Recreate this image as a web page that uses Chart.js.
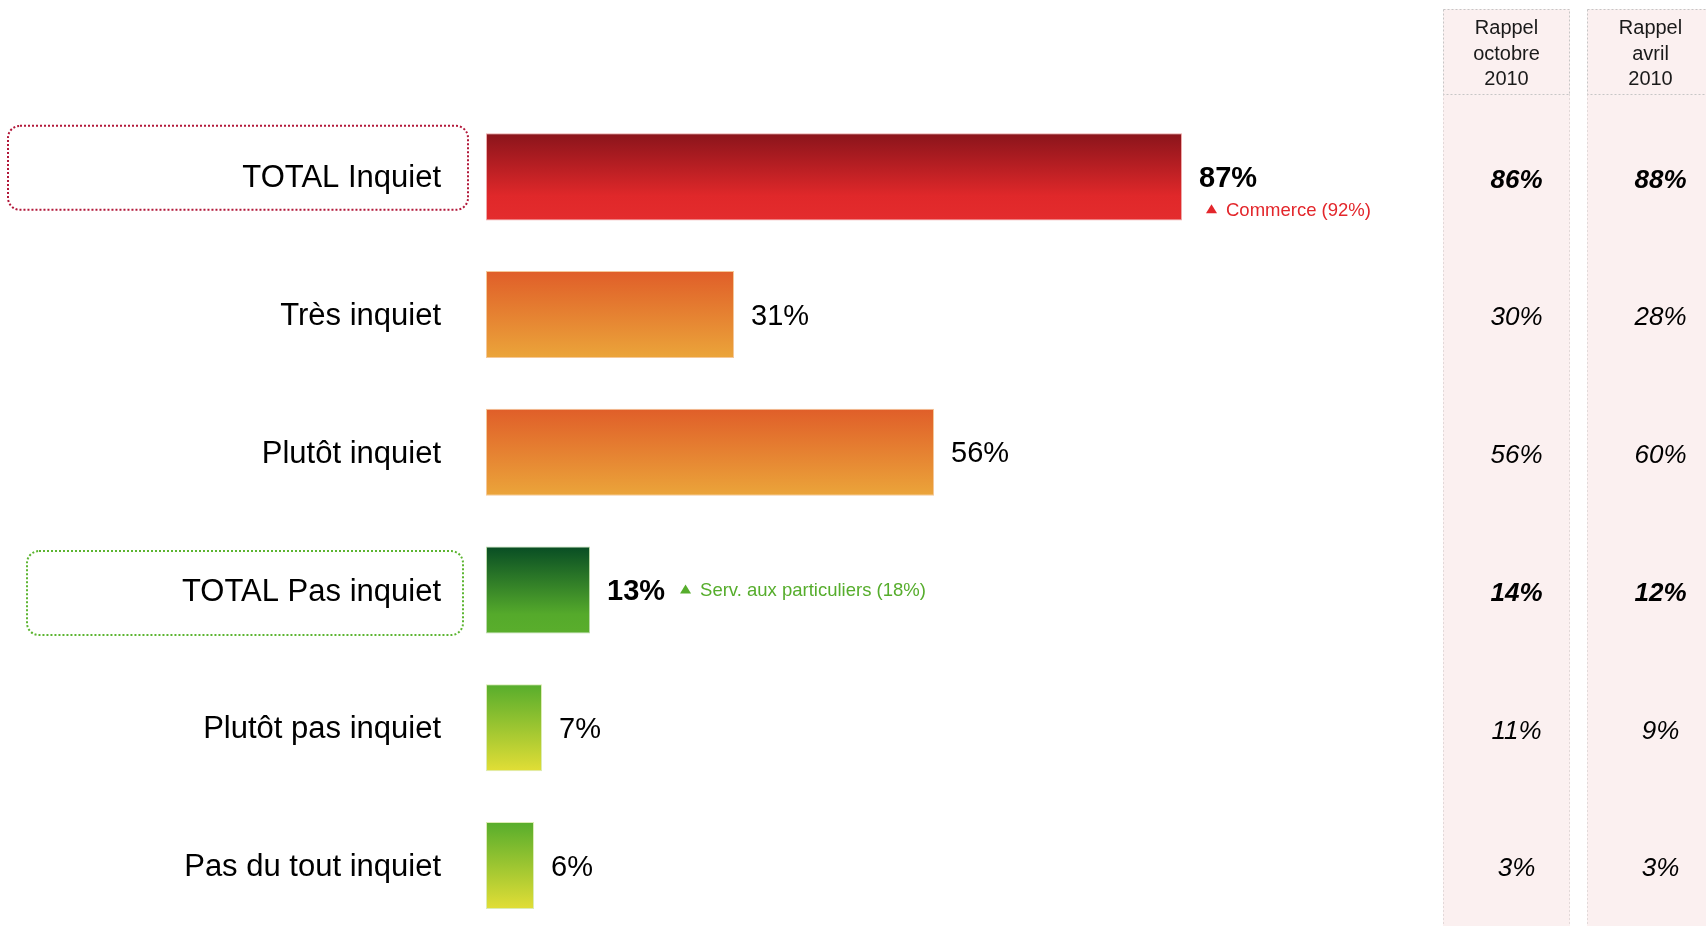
<!DOCTYPE html>
<html>
<head>
<meta charset="utf-8">
<script src="https://cdn.jsdelivr.net/npm/chart.js@4"></script>
<style>
  html, body { margin: 0; padding: 0; background: #fff; overflow: hidden; }
  #wrap { width: 1706px; height: 998px; }
</style>
</head>
<body>
<div id="wrap"><canvas id="chart" width="1706" height="998"></canvas></div>
<script>
const FONT = '"Liberation Sans", Arial, sans-serif';

const categories = ['TOTAL Inquiet', 'Très inquiet', 'Plutôt inquiet', 'TOTAL Pas inquiet', 'Plutôt pas inquiet', 'Pas du tout inquiet'];
const values = [87, 31, 56, 13, 7, 6];
const isTotal = [true, false, false, true, false, false];
const notes = ['Commerce (92%)', '', '', 'Serv. aux particuliers (18%)', '', ''];
const notePlacement = ['below', '', '', 'right', '', ''];

const recallHeaders = [['Rappel', 'octobre', '2010'], ['Rappel', 'avril', '2010']];
const recallOctobre2010 = [86, 30, 56, 14, 11, 3];
const recallAvril2010 = [88, 28, 60, 12, 9, 3];

// gradient stops per bar (top -> bottom)
const barGradients = [
  [['#8a141b', 0], ['#e0282a', 0.72], ['#e42c2d', 1]],
  [['#e05e29', 0], ['#eba53a', 1]],
  [['#e05e29', 0], ['#eba53a', 1]],
  [['#084d24', 0], ['#55aa2b', 0.78], ['#5aae2c', 1]],
  [['#57ad2c', 0], ['#e2de36', 1]],
  [['#57ad2c', 0], ['#e2de36', 1]],
];
const barBorders = ['#eeaaaa', '#f5c898', '#f5c898', '#b9d9a8', '#dcecb4', '#dcecb4'];
const noteColors = ['#e3262b', '', '', '#56ad2c', '', ''];
const BAR_PCT = 0.632;

const barGradient = (ctx) => {
  const chart = ctx.chart;
  const stops = barGradients[ctx.dataIndex] || barGradients[0];
  if (ctx.type !== 'data' || !chart.chartArea) return stops[stops.length - 1][0];
  const y = chart.scales.y;
  const c = y.getPixelForValue(ctx.dataIndex);
  const half = (y.height / categories.length) * BAR_PCT / 2;
  const g = chart.ctx.createLinearGradient(0, c - half, 0, c + half);
  stops.forEach(([color, at]) => g.addColorStop(at, color));
  return g;
};

const dottedRoundRect = (ctx, x, y, w, h, r, color) => {
  ctx.save();
  ctx.strokeStyle = color;
  ctx.lineWidth = 2;
  ctx.setLineDash([2, 2]);
  ctx.beginPath();
  ctx.roundRect(x, y, w, h, r);
  ctx.stroke();
  ctx.restore();
};

const triangle = (ctx, x, cy, color) => {
  ctx.fillStyle = color;
  ctx.beginPath();
  ctx.moveTo(x, cy + 4.5);
  ctx.lineTo(x + 11, cy + 4.5);
  ctx.lineTo(x + 5.5, cy - 4.5);
  ctx.closePath();
  ctx.fill();
};

const boxes = [
  { index: 0, left: 8, right: 468, top: -51, bottom: 33, color: '#b2183a' },
  { index: 3, left: 27, right: 463, top: -39, bottom: 45, color: '#5cb531' },
];

const recallColumns = [
  { left: 1443, width: 127, values: recallOctobre2010, header: recallHeaders[0] },
  { left: 1587, width: 127, values: recallAvril2010, header: recallHeaders[1] },
];

const decorPlugin = {
  id: 'decor',
  beforeDraw(chart) {
    const { ctx } = chart;
    const y = chart.scales.y;
    const h = chart.height;
    ctx.save();
    // recall columns
    recallColumns.forEach((col) => {
      ctx.fillStyle = '#fbf0f0';
      ctx.fillRect(col.left, 9, col.width, h);
      ctx.strokeStyle = '#e2d9d9';
      ctx.lineWidth = 1;
      ctx.setLineDash([2, 2]);
      ctx.beginPath();
      ctx.moveTo(col.left + 0.5, 94);
      ctx.lineTo(col.left + 0.5, h);
      ctx.moveTo(col.left + col.width - 0.5, 94);
      ctx.lineTo(col.left + col.width - 0.5, h);
      ctx.stroke();
      ctx.strokeStyle = '#c6c6c6';
      ctx.strokeRect(col.left + 0.5, 9.5, col.width - 1, 85);
      ctx.setLineDash([]);
      ctx.fillStyle = '#1a1a1a';
      ctx.font = '20px ' + FONT;
      ctx.textAlign = 'center';
      ctx.textBaseline = 'alphabetic';
      col.header.forEach((line, i) => {
        ctx.fillText(line, col.left + col.width / 2, 34 + i * 25.5);
      });
      ctx.textBaseline = 'middle';
      col.values.forEach((v, i) => {
        ctx.font = (isTotal[i] ? 'italic bold ' : 'italic ') + '26px ' + FONT;
        ctx.fillStyle = '#000';
        ctx.fillText(v + '%', col.left + col.width / 2 + 10, y.getPixelForValue(i) + 3.5);
      });
    });
    // dotted boxes around total labels
    boxes.forEach((b) => {
      const c = y.getPixelForValue(b.index);
      dottedRoundRect(ctx, b.left, c + b.top, b.right - b.left, b.bottom - b.top, 12, b.color);
    });
    ctx.restore();
  },
  afterDatasetsDraw(chart) {
    const { ctx } = chart;
    const meta = chart.getDatasetMeta(0);
    ctx.save();
    ctx.textBaseline = 'middle';
    ctx.textAlign = 'left';
    meta.data.forEach((bar, i) => {
      ctx.font = (isTotal[i] ? 'bold ' : '') + '29px ' + FONT;
      ctx.fillStyle = '#000';
      const label = values[i] + '%';
      const lx = bar.x + 17;
      const ly = bar.y + 2;
      ctx.fillText(label, lx, ly);
      if (!notes[i]) return;
      let nx, ny;
      if (notePlacement[i] === 'below') {
        nx = lx + 7;
        ny = ly + 32;
      } else {
        nx = lx + ctx.measureText(label).width + 15;
        ny = ly - 1;
      }
      triangle(ctx, nx, ny - 2, noteColors[i]);
      ctx.font = '18.5px ' + FONT;
      ctx.fillStyle = noteColors[i];
      ctx.fillText(notes[i], nx + 20, ny);
    });
    ctx.restore();
  },
};

new Chart(document.getElementById('chart'), {
  type: 'bar',
  data: {
    labels: categories,
    datasets: [
      {
        data: values,
        backgroundColor: barGradient,
        borderColor: barBorders,
        borderWidth: 1,
        borderSkipped: false,
        categoryPercentage: 1,
        barPercentage: BAR_PCT,
      },
    ],
  },
  options: {
    indexAxis: 'y',
    responsive: false,
    animation: false,
    layout: { padding: { top: 108, bottom: 0, left: 0, right: 420 } },
    scales: {
      x: { min: 0, max: 100, display: false, grid: { display: false } },
      y: {
        grid: { display: false, drawTicks: false },
        border: { display: false },
        ticks: { color: '#000', font: { family: FONT, size: 31 }, padding: 45, labelOffset: 2 },
        afterFit: (scale) => { scale.width = 486; },
      },
    },
    plugins: {
      legend: { display: false },
      tooltip: { enabled: false },
    },
  },
  plugins: [decorPlugin],
});
</script>
</body>
</html>
